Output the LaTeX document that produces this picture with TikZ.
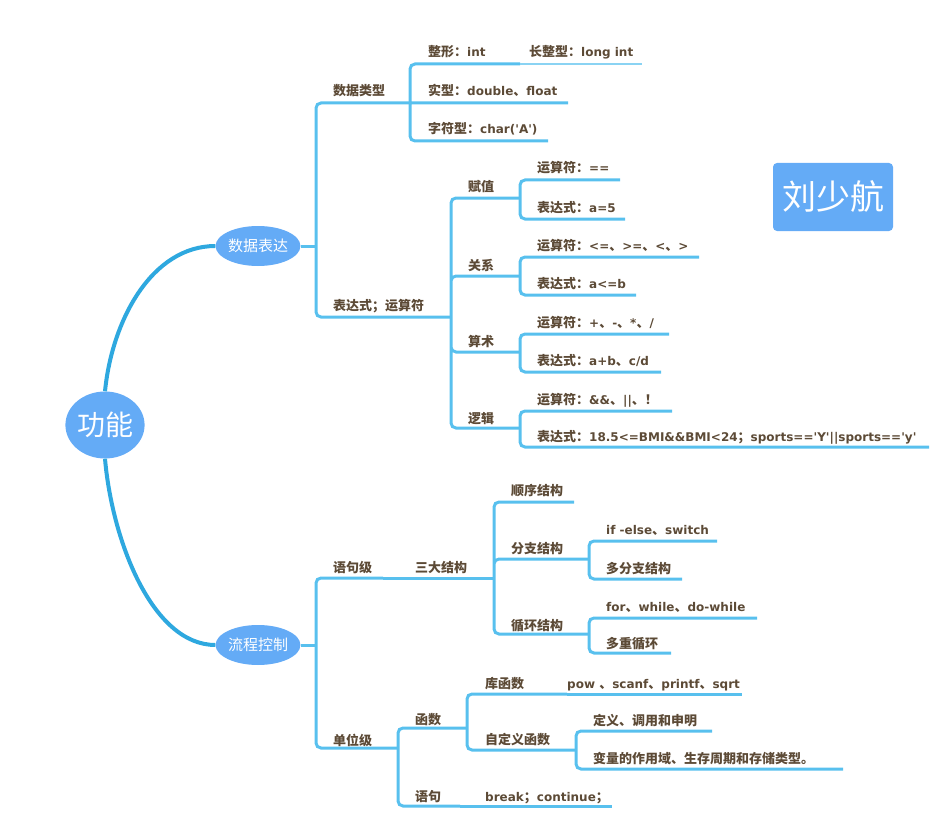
\documentclass[tikz,border=0pt]{standalone}
\usepackage{fontspec}
\newfontfamily\zhfam{Noto Sans CJK SC}
\newfontfamily\latfam{DejaVu Sans}
\usetikzlibrary{shapes.geometric}
\definecolor{mmLine}{HTML}{58C0EE}
\definecolor{mmRoot}{HTML}{2EA8DF}
\definecolor{mmNode}{HTML}{64ABF6}
\definecolor{mmText}{HTML}{5C4A36}
\newcommand{\zh}[1]{{\fontsize{13}{15}\selectfont\zhfam #1}}

\begin{document}
\begin{tikzpicture}[x=1pt, y=-1pt,
        lbl/.style={
            anchor=base west,
            inner sep=0pt,
            text=mmText,
            font=\fontsize{12}{14}\selectfont\latfam\bfseries
        },
        topic/.style={
            ellipse,
            fill=mmNode,
            inner sep=0pt,
            minimum width=79pt,
            minimum height=40pt,
            text=white,
            font=\fontsize{15}{17}\selectfont\zhfam
        },
        br/.style={
            draw=mmLine,
            line width=3pt,
            rounded corners=5pt
        },
        brthin/.style={
            draw=mmLine!70,
            line width=2pt
        },
        rootc/.style={
            draw=mmRoot,
            line width=4pt
        }
    ]
    \useasboundingbox (0,0) rectangle (940,824);

    % centre and main topics
    \node[topic, minimum width=78pt, minimum height=67pt,
        font=\fontsize{28}{30}\selectfont\zhfam] (n-root) at (105,425) {功能};
    \node[topic] (n-sjbd) at (258,246) {数据表达};
    \node[topic] (n-lckz) at (258,645) {流程控制};
    \node[rectangle, rounded corners=4pt, fill=mmNode, minimum width=120pt,
        minimum height=68pt, text=white,
        font=\fontsize{34}{38}\selectfont\zhfam] (n-name) at (833,197) {刘少航};

    \draw[rootc] (n-root.north) .. controls (112,320) and (152,246) .. (n-sjbd.west);
    \draw[rootc] (n-root.south) .. controls (112,540) and (152,645) .. (n-lckz.west);

    % ends of the branch lines
    \coordinate (j-sjbd) at (316,246);
    \coordinate (e-sjlx) at (410,103);
    \coordinate (e-zx) at (520,64);
    \coordinate (e-czx) at (642,64);
    \coordinate (e-sx) at (568,103);
    \coordinate (e-zfx) at (548,141);
    \coordinate (e-bds) at (451,317);
    \coordinate (e-fz) at (520,198);
    \coordinate (e-fz1) at (620,180);
    \coordinate (e-fz2) at (625,219);
    \coordinate (e-gx) at (520,276);
    \coordinate (e-gx1) at (699,257);
    \coordinate (e-gx2) at (636,295);
    \coordinate (e-ss) at (520,352);
    \coordinate (e-ss1) at (669,334);
    \coordinate (e-ss2) at (661,372);
    \coordinate (e-lj) at (520,428);
    \coordinate (e-lj1) at (672,411);
    \coordinate (e-lj2) at (929,447);

    \coordinate (j-lckz) at (316,645);
    \coordinate (e-yjj) at (383,578);
    \coordinate (e-sdjg) at (494,578);
    \coordinate (e-sxjg) at (574,502);
    \coordinate (e-fzjg) at (589,559);
    \coordinate (e-fza) at (717,541);
    \coordinate (e-fzb) at (682,579);
    \coordinate (e-xhjg) at (589,634);
    \coordinate (e-xha) at (757,618);
    \coordinate (e-xhb) at (671,653);
    \coordinate (e-dwj) at (398,748);
    \coordinate (e-hs) at (467,728);
    \coordinate (e-khs) at (567,694);
    \coordinate (e-khs1) at (742,694);
    \coordinate (e-zdy) at (576,750);
    \coordinate (e-zdy1) at (712,731);
    \coordinate (e-zdy2) at (843,769);
    \coordinate (e-yj) at (460,806);
    \coordinate (e-yj1) at (612,806);

    % 数据表达
    \draw[br] (n-sjbd.east) -- (j-sjbd);
    \draw[br] (j-sjbd) |- (e-sjlx) (j-sjbd) |- (e-bds);
    \draw[br] (e-sjlx) |- (e-zx) (e-sjlx) -- (e-sx) (e-sjlx) |- (e-zfx);
    \draw[brthin] (e-zx) -- (e-czx);
    \draw[br] (e-bds) |- (e-fz) (e-bds) |- (e-gx) (e-bds) |- (e-ss) (e-bds) |- (e-lj);
    \draw[br] (e-fz) |- (e-fz1) (e-fz) |- (e-fz2);
    \draw[br] (e-gx) |- (e-gx1) (e-gx) |- (e-gx2);
    \draw[br] (e-ss) |- (e-ss1) (e-ss) |- (e-ss2);
    \draw[br] (e-lj) |- (e-lj1) (e-lj) |- (e-lj2);

    % 流程控制
    \draw[br] (n-lckz.east) -- (j-lckz);
    \draw[br] (j-lckz) |- (e-yjj) (j-lckz) |- (e-dwj);
    \draw[br] (e-yjj) -- (e-sdjg);
    \draw[br] (e-sdjg) |- (e-sxjg) (e-sdjg) |- (e-fzjg) (e-sdjg) |- (e-xhjg);
    \draw[br] (e-fzjg) |- (e-fza) (e-fzjg) |- (e-fzb);
    \draw[br] (e-xhjg) |- (e-xha) (e-xhjg) |- (e-xhb);
    \draw[br] (e-dwj) |- (e-hs) (e-dwj) |- (e-yj);
    \draw[br] (e-hs) |- (e-khs) (e-hs) |- (e-zdy);
    \draw[br] (e-khs) -- (e-khs1);
    \draw[br] (e-zdy) |- (e-zdy1) (e-zdy) |- (e-zdy2);
    \draw[br] (e-yj) -- (e-yj1);

    % labels
    \node[lbl] (t-sjlx) at (333,96) {\zh{数据类型}};
    \node[lbl] (t-zx) at (428,57) {\zh{整形：}int};
    \node[lbl] (t-czx) at (529,57) {\zh{长整型：}long int};
    \node[lbl] (t-sx) at (428,96) {\zh{实型：}double\zh{、}float};
    \node[lbl] (t-zfx) at (428,134) {\zh{字符型：}char('A')};
    \node[lbl] (t-bds) at (333,310) {\zh{表达式；运算符}};
    \node[lbl] (t-fz) at (468,192) {\zh{赋值}};
    \node[lbl] (t-fz1) at (537,173) {\zh{运算符：}==};
    \node[lbl] (t-fz2) at (537,212) {\zh{表达式：}a=5};
    \node[lbl] (t-gx) at (468,270) {\zh{关系}};
    \node[lbl] (t-gx1) at (537,250) {\zh{运算符：}<=\zh{、}>=\zh{、}<\zh{、}>};
    \node[lbl] (t-gx2) at (537,288) {\zh{表达式：}a<=b};
    \node[lbl] (t-ss) at (468,346) {\zh{算术}};
    \node[lbl] (t-ss1) at (537,327) {\zh{运算符：}+\zh{、}-\zh{、}*\zh{、}/};
    \node[lbl] (t-ss2) at (537,365) {\zh{表达式：}a+b\zh{、}c/d};
    \node[lbl] (t-lj) at (468,423) {\zh{逻辑}};
    \node[lbl] (t-lj1) at (537,404) {\zh{运算符：}\&\&\zh{、}||\zh{、！}};
    \node[lbl] (t-lj2) at (537,441) {\zh{表达式：}18.5<=BMI\&\&BMI<24\zh{；}sports=='Y'||sports=='y'};

    \node[lbl] (t-yjj) at (333,572) {\zh{语句级}};
    \node[lbl] (t-sdjg) at (415,572) {\zh{三大结构}};
    \node[lbl] (t-sxjg) at (511,495) {\zh{顺序结构}};
    \node[lbl] (t-fzjg) at (511,553) {\zh{分支结构}};
    \node[lbl] (t-fza) at (606,534) {if -else\zh{、}switch};
    \node[lbl] (t-fzb) at (606,573) {\zh{多分支结构}};
    \node[lbl] (t-xhjg) at (511,630) {\zh{循环结构}};
    \node[lbl] (t-xha) at (606,611) {for\zh{、}while\zh{、}do-while};
    \node[lbl] (t-xhb) at (606,648) {\zh{多重循环}};
    \node[lbl] (t-dwj) at (333,745) {\zh{单位级}};
    \node[lbl] (t-hs) at (415,724) {\zh{函数}};
    \node[lbl] (t-khs) at (485,688) {\zh{库函数}};
    \node[lbl] (t-khs1) at (567,688) {pow \zh{、}scanf\zh{、}printf\zh{、}sqrt};
    \node[lbl] (t-zdy) at (485,744) {\zh{自定义函数}};
    \node[lbl] (t-zdy1) at (593,725) {\zh{定义、调用和申明}};
    \node[lbl] (t-zdy2) at (593,763) {\zh{变量的作用域、生存周期和存储类型。}};
    \node[lbl] (t-yj) at (415,801) {\zh{语句}};
    \node[lbl] (t-yj1) at (485,801) {break\zh{；}continue\zh{；}};
\end{tikzpicture}
\end{document}
